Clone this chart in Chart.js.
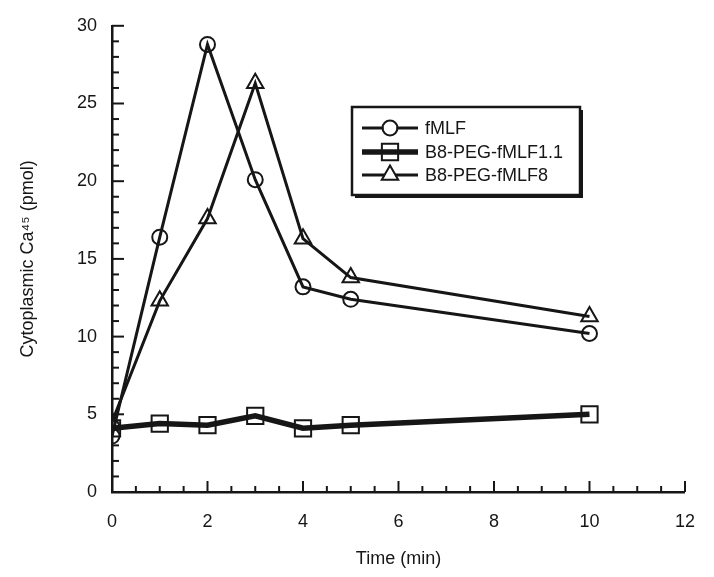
<!DOCTYPE html>
<html>
<head>
<meta charset="utf-8">
<script src="https://cdn.jsdelivr.net/npm/chart.js@4/dist/chart.umd.min.js"></script>
<style>
html,body{margin:0;padding:0;background:#fff;}
#wrap{width:714px;height:577px;position:relative;}
</style>
</head>
<body>
<div id="wrap"><canvas id="c" width="714" height="577"></canvas></div>
<script>
const times = [0, 1, 2, 3, 4, 5, 10];
const fMLF = [3.6, 16.4, 28.8, 20.1, 13.2, 12.4, 10.2];
const peg11 = [4.1, 4.4, 4.3, 4.9, 4.1, 4.3, 5.0];
const peg8 = [4.5, 12.3, 17.6, 26.3, 16.3, 13.8, 11.3];
const seriesNames = ['fMLF', 'B8-PEG-fMLF1.1', 'B8-PEG-fMLF8'];
const xTicks = [0, 2, 4, 6, 8, 10, 12];
const yTicks = [0, 5, 10, 15, 20, 25, 30];

const INK = '#161616';
const FONT = '"Liberation Sans", Arial, Helvetica, sans-serif';

function pts(vals){ return times.map((t,i)=>({x:t,y:vals[i]})); }

const styles = [
  {pointStyle:'circle', radius:7.5, lw:3},
  {pointStyle:'rect', radius:11.5, lw:5.5},
  {pointStyle:'triangle', radius:9.5, lw:3}
];

const datasets = [fMLF, peg11, peg8].map((v,i)=>({
  label: seriesNames[i],
  data: pts(v),
  borderColor: INK,
  backgroundColor: 'rgba(0,0,0,0)',
  borderWidth: styles[i].lw,
  pointStyle: styles[i].pointStyle,
  pointRadius: styles[i].radius,
  pointBorderWidth: 2,
  pointBorderColor: INK,
  pointBackgroundColor: 'rgba(0,0,0,0)',
  tension: 0
}));

const tickPlugin = {
  id: 'inwardTicks',
  afterDraw(chart){
    const ctx = chart.ctx;
    const xs = chart.scales.x, ys = chart.scales.y;
    const area = chart.chartArea;
    ctx.save();
    ctx.strokeStyle = INK;
    ctx.lineWidth = 2;
    for (let v = 0; v <= 30; v += 1) {
      const y = ys.getPixelForValue(v);
      const len = (v % 5 === 0) ? 12 : 7;
      ctx.beginPath(); ctx.moveTo(area.left, y); ctx.lineTo(area.left + len, y); ctx.stroke();
    }
    for (let v = 0.5; v <= 12; v += 0.5) {
      const x = xs.getPixelForValue(v);
      const len = (Math.abs(v % 2) < 1e-9) ? 11 : 6;
      ctx.beginPath(); ctx.moveTo(x, area.bottom); ctx.lineTo(x, area.bottom - len); ctx.stroke();
    }
    ctx.restore();
  }
};

function drawMarker(ctx, style, x, y, r){
  ctx.beginPath();
  if (style === 'circle') {
    ctx.arc(x, y, r, 0, Math.PI*2);
  } else if (style === 'rect') {
    const s = Math.SQRT1_2 * r;
    ctx.rect(x - s, y - s, 2*s, 2*s);
  } else {
    ctx.moveTo(x, y - r);
    ctx.lineTo(x + r*Math.sin(2*Math.PI/3), y - r*Math.cos(2*Math.PI/3));
    ctx.lineTo(x + r*Math.sin(4*Math.PI/3), y - r*Math.cos(4*Math.PI/3));
    ctx.closePath();
  }
  ctx.stroke();
}

const legendPlugin = {
  id: 'boxLegend',
  afterDraw(chart){
    const ctx = chart.ctx;
    const bx = 352, by = 107, bw = 228, bh = 88;
    ctx.save();
    ctx.fillStyle = INK;
    ctx.fillRect(bx + 3, by + 3, bw, bh);
    ctx.fillStyle = '#fff';
    ctx.fillRect(bx, by, bw, bh);
    ctx.strokeStyle = INK;
    ctx.lineWidth = 2.5;
    ctx.strokeRect(bx, by, bw, bh);
    const rows = [128, 152, 175];
    chart.data.datasets.forEach((ds, i) => {
      const y = rows[i];
      ctx.strokeStyle = INK;
      ctx.lineWidth = ds.borderWidth;
      ctx.beginPath(); ctx.moveTo(362, y); ctx.lineTo(418, y); ctx.stroke();
      if (ds.pointStyle !== 'rect') {
        ctx.fillStyle = '#fff';
        ctx.beginPath();
        if (ds.pointStyle === 'circle') ctx.arc(390, y, ds.pointRadius - 1, 0, Math.PI*2);
        else { ctx.rect(385, y - 4, 10, 7); }
        ctx.fill();
      }
      ctx.lineWidth = 2;
      drawMarker(ctx, ds.pointStyle, 390, y, ds.pointRadius);
      ctx.fillStyle = INK;
      ctx.font = '18px ' + FONT;
      ctx.textBaseline = 'middle';
      ctx.textAlign = 'left';
      ctx.fillText(ds.label, 425, y + 1);
    });
    ctx.restore();
  }
};

new Chart(document.getElementById('c'), {
  type: 'line',
  data: { datasets },
  plugins: [tickPlugin, legendPlugin],
  options: {
    responsive: false,
    animation: false,
    layout: { padding: { top: 16, right: 18, left: 0, bottom: 0 } },
    plugins: { legend: { display: false }, tooltip: { enabled: false } },
    scales: {
      x: {
        type: 'linear', min: 0, max: 12,
        afterFit(s){ s.height = 85; },
        afterBuildTicks(s){ s.ticks = xTicks.map(v=>({value:v})); },
        grid: { display: true, drawOnChartArea: false, drawTicks: false },
        border: { display: true, color: INK, width: 2.5 },
        ticks: { color: INK, font: { family: FONT, size: 18 }, padding: 19, maxRotation: 0 },
        title: { display: true, text: 'Time (min)', color: INK, font: { family: FONT, size: 18 }, padding: { top: 0, bottom: 7 } }
      },
      y: {
        type: 'linear', min: 0, max: 30,
        afterFit(s){ s.width = 112; },
        afterBuildTicks(s){ s.ticks = yTicks.map(v=>({value:v})); },
        grid: { display: true, drawOnChartArea: false, drawTicks: false },
        border: { display: true, color: INK, width: 2.5 },
        ticks: { color: INK, font: { family: FONT, size: 18 }, padding: 15 },
        title: { display: true, text: 'Cytoplasmic Ca⁴⁵ (pmol)', color: INK, font: { family: FONT, size: 18 }, padding: { top: 17, bottom: 0 } }
      }
    }
  }
});
</script>
</body>
</html>
